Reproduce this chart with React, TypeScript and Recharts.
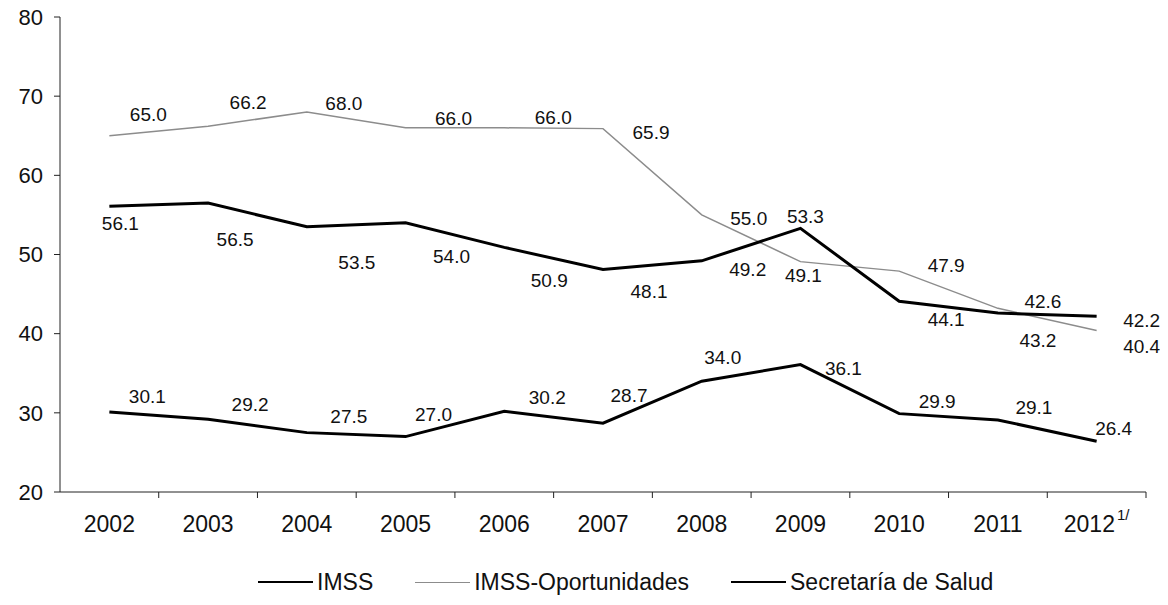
import React from 'react';
import { LineChart, Line, XAxis, YAxis, LabelList } from 'recharts';

const years = ['2002', '2003', '2004', '2005', '2006', '2007', '2008', '2009', '2010', '2011', '2012'];
const imss = [30.1, 29.2, 27.5, 27.0, 30.2, 28.7, 34.0, 36.1, 29.9, 29.1, 26.4];
const imssOportunidades = [65.0, 66.2, 68.0, 66.0, 66.0, 65.9, 55.0, 49.1, 47.9, 43.2, 40.4];
const secretariaSalud = [56.1, 56.5, 53.5, 54.0, 50.9, 48.1, 49.2, 53.3, 44.1, 42.6, 42.2];
const yTicks = [20, 30, 40, 50, 60, 70, 80];

// label nudges (px from the point), the original labels were moved by hand
const imssLabelDx = [38, 42, 42, 28, 43, 26, 21, 43, 38, 36, 17];
const imssLabelDy = [-16, -15, -16, -22, -14, -28, -24, 4, -12, -12, -13];
const oportLabelDx = [39, 40, 37, 48, 49, 48, 47, 3, 47, 40, 45];
const oportLabelDy = [-21, -24, -9, -9, -10, 4, 4, 14, -6, 32, 16];
const ssaLabelDx = [11, 27, 50, 46, 45, 46, 46, 5, 47, 45, 45];
const ssaLabelDy = [17, 36, 36, 34, 33, 22, 9, -12, 18, -12, 4];

const data = years.map((year, i) => ({
  year,
  imss: imss[i],
  oport: imssOportunidades[i],
  ssa: secretariaSalud[i],
}));

const FONT = '"Liberation Sans", Arial, Helvetica, sans-serif';
const TICK_SIZE = 6;
const TICK_MARGIN = 18;
const CHART_W = 1168;
const MARGIN = { top: 17, right: 22, bottom: 63, left: 0 };
const Y_AXIS_W = 60;

function makeLabel(dxs: number[], dys: number[]) {
  return (props: any) => {
    const { x, y, index, value } = props;
    if (x == null || y == null) return null;
    return (
      <text
        x={x + dxs[index]}
        y={y + dys[index]}
        textAnchor="middle"
        dominantBaseline="central"
        fontSize={19}
        fontFamily={FONT}
        fill="#111"
      >
        {Number(value).toFixed(1)}
      </text>
    );
  };
}

function YearTick(props: any) {
  const { x, y, payload, index } = props;
  const axisY = y - TICK_SIZE - TICK_MARGIN;
  const band = (CHART_W - MARGIN.right - Y_AXIS_W) / years.length;
  const isLast = index === years.length - 1;
  return (
    <g>
      <line x1={x + band / 2} x2={x + band / 2} y1={axisY} y2={axisY + TICK_SIZE} stroke="#222" strokeWidth={1} />
      <text x={x} y={y} dy="0.71em" textAnchor="middle" fontSize={23} fontFamily={FONT} fill="#111">
        {payload.value}
        {isLast && (
          <tspan dy={-12} dx={2} fontSize={15}>
            1/
          </tspan>
        )}
      </text>
    </g>
  );
}

function LegendItem({ label, color, width }: { label: string; color: string; width: number }) {
  return (
    <div style={{ display: 'flex', alignItems: 'center' }}>
      <div style={{ width: 55, height: 0, borderTop: `${width}px solid ${color}`, marginRight: 4 }} />
      <span>{label}</span>
    </div>
  );
}

export default function App() {
  return (
    <div style={{ position: 'relative', width: 1168, height: 605, margin: -8, background: '#fff' }}>
      <LineChart width={1168} height={605} data={data} margin={MARGIN}>
        <XAxis
          dataKey="year"
          scale="band"
          axisLine={{ stroke: '#222', strokeWidth: 1 }}
          tickLine={false}
          tickSize={TICK_SIZE}
          tickMargin={TICK_MARGIN}
          height={50}
          interval={0}
          tick={<YearTick />}
        />
        <YAxis
          domain={[20, 80]}
          ticks={yTicks}
          width={Y_AXIS_W}
          axisLine={{ stroke: '#222', strokeWidth: 1 }}
          tickLine={{ stroke: '#222' }}
          tickSize={TICK_SIZE}
          tickMargin={11}
          tick={{ fontSize: 22, fontFamily: FONT, fill: '#111' }}
        />
        <Line
          dataKey="oport"
          name="IMSS-Oportunidades"
          stroke="#8c8c8c"
          strokeWidth={1.5}
          dot={false}
          isAnimationActive={false}
        >
          <LabelList dataKey="oport" content={makeLabel(oportLabelDx, oportLabelDy)} />
        </Line>
        <Line
          dataKey="ssa"
          name="Secretaría de Salud"
          stroke="#000"
          strokeWidth={3}
          dot={false}
          isAnimationActive={false}
        >
          <LabelList dataKey="ssa" content={makeLabel(ssaLabelDx, ssaLabelDy)} />
        </Line>
        <Line
          dataKey="imss"
          name="IMSS"
          stroke="#000"
          strokeWidth={3}
          dot={false}
          isAnimationActive={false}
        >
          <LabelList dataKey="imss" content={makeLabel(imssLabelDx, imssLabelDy)} />
        </Line>
      </LineChart>

      {/* legend */}
      <div
        style={{
          position: 'absolute',
          left: 258,
          top: 568,
          display: 'flex',
          gap: 42,
          fontFamily: FONT,
          fontSize: 23,
          color: '#111',
          lineHeight: '28px',
        }}
      >
        <LegendItem label="IMSS" color="#000" width={2.5} />
        <LegendItem label="IMSS-Oportunidades" color="#8c8c8c" width={1.5} />
        <LegendItem label="Secretaría de Salud" color="#000" width={2.5} />
      </div>
    </div>
  );
}
